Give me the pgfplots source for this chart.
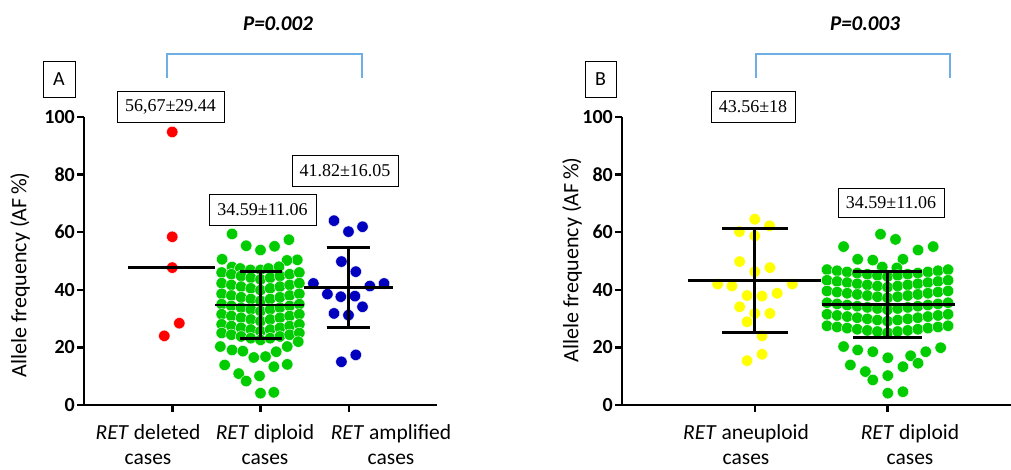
\documentclass[border=0pt]{standalone}
\usepackage{pgfplots}
\pgfplotsset{compat=1.18}
\usepackage{fontspec}
\setmainfont{Carlito}
\newfontfamily\boxfont{Liberation Serif}
\definecolor{dgreen}{RGB}{0,204,0}
\definecolor{dblue}{RGB}{0,0,190}
\definecolor{dyellow}{RGB}{255,255,0}
\definecolor{dred}{RGB}{255,0,0}
\definecolor{brk}{RGB}{110,175,230}
\pgfplotsset{
 panel/.style={
  scale only axis, height=288pt, ymin=0, ymax=100, xmin=-1,
  axis x line*=bottom, axis y line*=left,
  axis line style={line width=2.8pt,-},
  ytick={0,20,...,100},
  tick align=outside, major tick length=7pt,
  tick style={black, line width=2.5pt},
  /pgf/number format/assume math mode=true,
  yticklabel style={font=\bfseries\fontsize{20}{20}\selectfont, inner sep=2pt},
  clip=false, clip mode=individual,
 },
 dots/.style={only marks, mark=*, mark size=5.7pt, mark options={fill=#1, draw=white, line width=0.4pt}},
 bar/.style={black, line width=2.8pt, no marks}
}
\tikzset{abox/.style={draw=black, line width=0.8pt, inner sep=0pt, minimum height=31pt, font=\boxfont\fontsize{18}{18}\selectfont},
 xl/.style={anchor=north, align=center, inner sep=0pt, font=\fontsize{21.5}{25}\selectfont},
 pt/.style={font=\bfseries\itshape\fontsize{21}{21}\selectfont}}
\begin{document}
\begin{tikzpicture}
\path[use as bounding box] (0,0) rectangle (1011pt,470pt);
% Panel A
\begin{axis}[panel, at={(84pt,65pt)}, anchor=south west, width=353pt, xmax=3, xtick={0,1,2}, xticklabels={{},{},{}}]
\addplot[dots=dred] coordinates {(0,94.8)(0,58.4)(0,47.7)(0.08,28.4)(-0.09,24.0)};
\addplot[dots=dgreen] coordinates {
(0.678,59.4)(0.838,55.3)(1.0,53.8)(1.159,55.1)(1.322,57.4)(0.565,50.6)(1.417,50.4)(1.30,50.2)(0.678,47.9)(0.77,47.4)(0.886,46.9)(1.0,46.9)(1.09,47.4)(1.21,48.0)
(0.56,46)(0.67,45.4)(0.78,44.8)(0.89,44.2)(1.00,43.6)(1.11,44.2)(1.22,44.8)(1.33,45.4)(1.44,46)
(0.56,42.3)(0.67,41.7)(0.78,41.1)(0.89,40.5)(1.00,39.9)(1.11,40.5)(1.22,41.1)(1.33,41.7)(1.44,42.3)
(0.56,38.6)(0.67,38.0)(0.78,37.4)(0.89,36.8)(1.00,36.2)(1.11,36.8)(1.22,37.4)(1.33,38.0)(1.44,38.6)
(0.56,35.0)(0.67,34.4)(0.78,33.8)(0.89,33.2)(1.00,32.6)(1.11,33.2)(1.22,33.8)(1.33,34.4)(1.44,35.0)
(0.56,31.5)(0.67,30.9)(0.78,30.3)(0.89,29.7)(1.00,29.1)(1.11,29.7)(1.22,30.3)(1.33,30.9)(1.44,31.5)
(0.56,28.0)(0.67,27.4)(0.78,26.8)(0.89,26.2)(1.00,25.6)(1.11,26.2)(1.22,26.8)(1.33,27.4)(1.44,28.0)
(0.56,25.0)(0.67,24.4)(0.78,23.8)(0.89,23.2)(1.00,22.6)(1.11,23.2)(1.22,23.8)(1.33,24.4)(1.44,25.0)
(0.545,20.3)(0.678,19.1)(0.80,18.7)(0.924,16.5)(1.057,16.8)(1.178,18.5)(1.303,20.3)(1.428,22.0)(0.594,13.9)(0.753,10.9)(0.838,8.3)(0.989,10.1)(1.151,13.3)(1.303,14.1)(1.0,4.1)(1.151,4.4)};
\addplot[dots=dblue] coordinates {(1.833,64.0)(1.997,60.2)(2.156,61.9)(1.917,49.8)(2.08,46.3)(1.599,42.2)(2.239,41.3)(2.40,42.2)(1.758,38.5)(1.91,37.6)(2.07,37.8)(2.156,34.1)(1.833,31.8)(1.997,31.2)(1.917,15.0)(2.08,17.4)};
\addplot[bar] coordinates {(-0.5,47.7)(0.49,47.7)};
\addplot[bar] coordinates {(0.489,34.7)(1.489,34.7)};
\addplot[bar] coordinates {(0.773,46.3)(1.247,46.3)};
\addplot[bar] coordinates {(0.773,23.2)(1.247,23.2)};
\addplot[bar] coordinates {(1.0,23.2)(1.0,46.3)};
\addplot[bar] coordinates {(1.489,40.7)(2.5,40.7)};
\addplot[bar] coordinates {(1.75,54.8)(2.24,54.8)};
\addplot[bar] coordinates {(1.75,26.8)(2.24,26.8)};
\addplot[bar] coordinates {(2.0,26.8)(2.0,54.8)};
\end{axis}
% Panel B
\begin{axis}[panel, at={(622pt,65pt)}, anchor=south west, width=389pt, xmax=1.93, xtick={0,1}, xticklabels={{},{}}]
\addplot[dots=dyellow] coordinates {(0,64.5)(-0.116,60.2)(0.111,62.2)(0,58.7)(-0.114,49.8)(0.114,47.7)(0,46.3)(-0.28,42.0)(-0.172,41.3)(0.283,42.0)(-0.058,38.0)(0.055,37.8)(0.169,38.8)(-0.114,34.1)(0.114,31.8)(0,31.8)(-0.058,28.9)(0.055,24.0)(-0.058,15.4)(0.055,17.6)};
\addplot[dots=dgreen] coordinates {
(0.947,59.3)(1.06,57.5)(0.669,55.0)(1.344,55.0)(1.23,53.8)(0.775,50.6)(0.889,50.3)(1.116,50.6)(0.96,47.9)(1.07,47.6)
(0.544,47)(0.62,46.6)(0.696,46.2)(0.772,45.8)(0.848,45.4)(0.924,45.0)(1.0,44.6)(1.076,45.0)(1.152,45.4)(1.228,45.8)(1.304,46.2)(1.38,46.6)(1.456,47)
(0.544,43.3)(0.62,42.9)(0.696,42.5)(0.772,42.1)(0.848,41.7)(0.924,41.3)(1.0,40.9)(1.076,41.3)(1.152,41.7)(1.228,42.1)(1.304,42.5)(1.38,42.9)(1.456,43.3)
(0.544,39.6)(0.62,39.2)(0.696,38.8)(0.772,38.4)(0.848,38.0)(0.924,37.6)(1.0,37.2)(1.076,37.6)(1.152,38.0)(1.228,38.4)(1.304,38.8)(1.38,39.2)(1.456,39.6)
(0.544,35.5)(0.62,35.1)(0.696,34.7)(0.772,34.3)(0.848,33.9)(0.924,33.5)(1.0,33.1)(1.076,33.5)(1.152,33.9)(1.228,34.3)(1.304,34.7)(1.38,35.1)(1.456,35.5)
(0.544,31.5)(0.62,31.1)(0.696,30.7)(0.772,30.3)(0.848,29.9)(0.924,29.5)(1.0,29.1)(1.076,29.5)(1.152,29.9)(1.228,30.3)(1.304,30.7)(1.38,31.1)(1.456,31.5)
(0.544,27.5)(0.62,27.1)(0.696,26.7)(0.772,26.3)(0.848,25.9)(0.924,25.5)(1.0,25.1)(1.076,25.5)(1.152,25.9)(1.228,26.3)(1.304,26.7)(1.38,27.1)(1.456,27.5)
(0.669,20.3)(0.775,19.1)(0.889,18.5)(1.002,16.4)(1.174,17.1)(1.288,18.5)(1.40,19.9)(0.72,13.9)(0.833,11.6)(0.889,8.7)(1.002,10.2)(1.116,13.3)(1.23,14.5)(1.002,4.1)(1.116,4.6)};
\addplot[bar] coordinates {(-0.5,43.2)(0.5,43.2)};
\addplot[bar] coordinates {(-0.25,61.3)(0.25,61.3)};
\addplot[bar] coordinates {(-0.25,25.1)(0.25,25.1)};
\addplot[bar] coordinates {(0,25.1)(0,61.3)};
\addplot[bar] coordinates {(0.508,35.0)(1.508,35.0)};
\addplot[bar] coordinates {(0.742,46.3)(1.258,46.3)};
\addplot[bar] coordinates {(0.742,23.4)(1.258,23.4)};
\addplot[bar] coordinates {(1,23.4)(1,46.3)};
\end{axis}
% y labels
\node[rotate=90, font=\fontsize{22}{22}\selectfont] at (20pt,195pt) {Allele frequency (AF\,\%)};
\node[rotate=90, font=\fontsize{22}{22}\selectfont] at (572pt,210pt) {Allele frequency (AF\,\%)};
% x labels
\node[xl] at (148pt,46pt) {\textit{RET} deleted\\cases};
\node[xl] at (265pt,46pt) {\textit{RET} diploid\\cases};
\node[xl] at (391pt,46pt) {\textit{RET} amplified\\cases};
\node[xl] at (746pt,46pt) {\textit{RET} aneuploid\\cases};
\node[xl] at (910pt,46pt) {\textit{RET} diploid\\cases};
% boxes
\node[draw=black, line width=0.8pt, minimum width=32pt, minimum height=36pt, inner sep=0pt, font=\fontsize{20}{20}\selectfont] at (59pt,391pt) {A};
\node[draw=black, line width=0.8pt, minimum width=31pt, minimum height=36pt, inner sep=0pt, font=\fontsize{20}{20}\selectfont] at (600.5pt,391pt) {B};
\node[abox, minimum width=107pt] at (170.5pt,363.5pt) {56,67±29.44};
\node[abox, minimum width=107pt] at (262.5pt,260.5pt) {34.59±11.06};
\node[abox, minimum width=106pt] at (345pt,299.5pt) {41.82±16.05};
\node[abox, minimum width=84pt] at (753pt,363.5pt) {43.56±18};
\node[abox, minimum width=106pt, minimum height=29pt] at (891pt,267.5pt) {34.59±11.06};
% brackets
\draw[brk, line width=1.5pt] (167pt,392pt) -- (167pt,416pt) -- (362pt,416pt) -- (362pt,392pt);
\draw[brk, line width=1.5pt] (756pt,392pt) -- (756pt,416pt) -- (950pt,416pt) -- (950pt,392pt);
\node[pt] at (278pt,446pt) {P=0.002};
\node[pt] at (865pt,446pt) {P=0.003};
\end{tikzpicture}
\end{document}
